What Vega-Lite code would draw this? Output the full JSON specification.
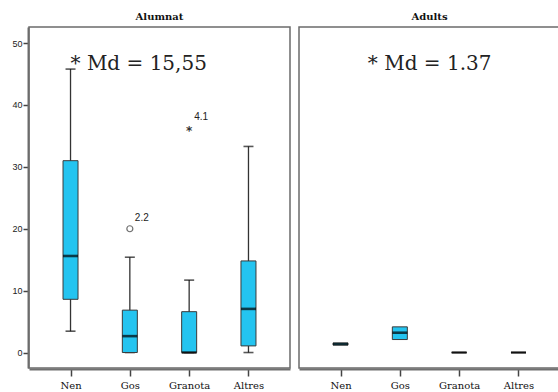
{
  "$schema": "https://vega.github.io/schema/vega-lite/v6.json",
  "padding": {"left": 4, "top": 12, "right": 0, "bottom": 0},
  "background": "white",
  "data": {"values": [
    {"kind": "box", "panel": "Alumnat", "cat": "Nen", "lo": 3.45, "q1": 8.6, "med": 15.6, "q3": 31.0, "hi": 45.8},
    {"kind": "box", "panel": "Alumnat", "cat": "Gos", "lo": 0, "q1": 0, "med": 2.65, "q3": 6.85, "hi": 15.4},
    {"kind": "box", "panel": "Alumnat", "cat": "Granota", "lo": 0, "q1": 0, "med": 0, "q3": 6.6, "hi": 11.7},
    {"kind": "box", "panel": "Alumnat", "cat": "Altres", "lo": 0, "q1": 1.07, "med": 7.05, "q3": 14.8, "hi": 33.3},
    {"kind": "box", "panel": "Adults", "cat": "Nen", "lo": null, "q1": 1.2, "med": 1.37, "q3": 1.55, "hi": null},
    {"kind": "box", "panel": "Adults", "cat": "Gos", "lo": null, "q1": 2.1, "med": 3.2, "q3": 4.15, "hi": null},
    {"kind": "box", "panel": "Adults", "cat": "Granota", "lo": null, "q1": 0, "med": 0, "q3": 0, "hi": null},
    {"kind": "box", "panel": "Adults", "cat": "Altres", "lo": null, "q1": 0, "med": 0, "q3": 0, "hi": null},
    {"kind": "circle", "panel": "Alumnat", "cat": "Gos", "v": 20.0, "label": "2.2"},
    {"kind": "star", "panel": "Alumnat", "cat": "Granota", "v": 36.2, "label": "4.1"},
    {"kind": "noteL", "panel": "Alumnat", "cat": "Nen", "v": 45.7, "label": "* Md = 15,55"},
    {"kind": "noteR", "panel": "Adults", "cat": "Gos", "v": 45.7, "label": "* Md = 1.37"}
  ]},
  "facet": {
    "column": {
      "field": "panel", "type": "nominal", "sort": ["Alumnat", "Adults"], "title": null,
      "header": {"labelFont": "DejaVu Serif", "labelFontWeight": "bold", "labelFontSize": 10, "labelColor": "#111", "labelPadding": 4}
    }
  },
  "spec": {
    "width": 261,
    "height": 341,
    "encoding": {
      "x": {
        "field": "cat", "type": "nominal", "sort": ["Nen", "Gos", "Granota", "Altres"],
        "scale": {"type": "point", "padding": 0.7},
        "axis": {"title": null, "labelAngle": 0, "labelFont": "DejaVu Serif", "labelFontSize": 10, "labelColor": "#111", "tickSize": 7, "tickWidth": 1.5, "tickColor": "#444", "labelPadding": 4, "domainColor": "#707070", "domainWidth": 2}
      }
    },
    "layer": [
      {
        "transform": [{"filter": "datum.kind === 'box'"}],
        "mark": {"type": "rule", "color": "#333", "strokeWidth": 1.3},
        "encoding": {
          "y": {"field": "lo", "type": "quantitative", "scale": {"domain": [-2.5, 52.6], "nice": false, "zero": false},
            "axis": {"title": null, "values": [0, 10, 20, 30, 40, 50], "labelFont": "Liberation Sans", "labelFontSize": 9, "labelColor": "#222", "tickSize": 5, "tickColor": "#444", "tickWidth": 1.5, "labelPadding": 1, "minExtent": 24, "maxExtent": 24, "domainColor": "#707070", "domainWidth": 2, "grid": false}},
          "y2": {"field": "hi"}
        }
      },
      {
        "transform": [{"filter": "datum.kind === 'box'"}],
        "mark": {"type": "tick", "color": "#111", "size": 10, "thickness": 1.6},
        "encoding": {"y": {"field": "lo", "type": "quantitative"}}
      },
      {
        "transform": [{"filter": "datum.kind === 'box'"}],
        "mark": {"type": "tick", "color": "#111", "size": 10, "thickness": 1.6},
        "encoding": {"y": {"field": "hi", "type": "quantitative"}}
      },
      {
        "transform": [{"filter": "datum.kind === 'box'"}],
        "mark": {"type": "bar", "width": 15, "fill": "#24C4F0", "stroke": "#3a3a3a", "strokeWidth": 1},
        "encoding": {"y": {"field": "q1", "type": "quantitative"}, "y2": {"field": "q3"}}
      },
      {
        "transform": [{"filter": "datum.kind === 'box'"}],
        "mark": {"type": "tick", "color": "#000", "size": 15, "thickness": 2.6},
        "encoding": {"y": {"field": "med", "type": "quantitative"}}
      },
      {
        "transform": [{"filter": "datum.kind === 'circle'"}],
        "mark": {"type": "point", "shape": "circle", "size": 36, "stroke": "#333", "strokeWidth": 1.2, "filled": false},
        "encoding": {"y": {"field": "v", "type": "quantitative"}}
      },
      {
        "transform": [{"filter": "datum.kind === 'star'"}],
        "mark": {"type": "text", "text": "*", "font": "DejaVu Sans", "fontSize": 12, "fontWeight": "bold", "color": "#333", "baseline": "middle", "dy": 3},
        "encoding": {"y": {"field": "v", "type": "quantitative"}}
      },
      {
        "transform": [{"filter": "datum.kind === 'circle' || datum.kind === 'star'"}],
        "mark": {"type": "text", "align": "left", "baseline": "middle", "dx": 5, "dy": -11, "font": "Liberation Sans", "fontSize": 10, "color": "#222"},
        "encoding": {"y": {"field": "v", "type": "quantitative"}, "text": {"field": "label"}}
      },
      {
        "transform": [{"filter": "datum.kind === 'noteL'"}],
        "mark": {"type": "text", "align": "left", "baseline": "alphabetic", "dx": 0, "font": "DejaVu Serif", "fontSize": 20, "color": "#222"},
        "encoding": {"y": {"field": "v", "type": "quantitative"}, "text": {"field": "label"}}
      },
      {
        "transform": [{"filter": "datum.kind === 'noteR'"}],
        "mark": {"type": "text", "align": "left", "baseline": "alphabetic", "dx": -32, "font": "DejaVu Serif", "fontSize": 20, "color": "#222"},
        "encoding": {"y": {"field": "v", "type": "quantitative"}, "text": {"field": "label"}}
      }
    ]
  },
  "resolve": {"scale": {"x": "shared", "y": "shared"}},
  "config": {
    "view": {"stroke": "#6b6b6b", "strokeWidth": 1.5},
    "facet": {"spacing": 7},
    "axis": {"grid": false}
  }
}
